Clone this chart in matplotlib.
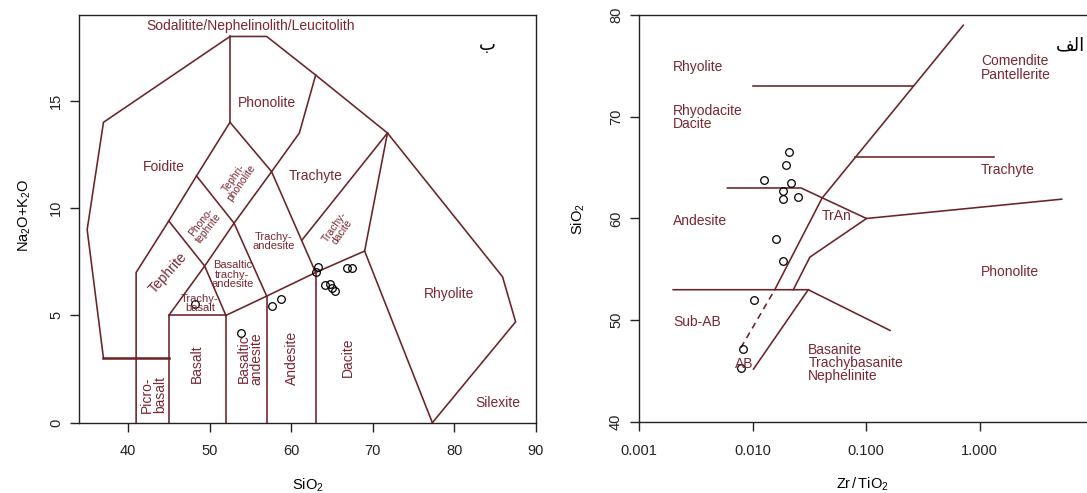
import matplotlib.pyplot as plt
from matplotlib.ticker import NullLocator, FixedLocator, FixedFormatter

plt.rcParams['font.family'] = ['Liberation Sans', 'DejaVu Sans']
plt.rcParams['mathtext.fontset'] = 'custom'
plt.rcParams['mathtext.rm'] = 'Liberation Sans'
plt.rcParams['mathtext.it'] = 'Liberation Sans:italic'

LINE = '#6b2226'
TXT = '#7a2630'

# --- samples on the TAS diagram (panel b)
tas_sio2 = [48.2, 53.8, 57.7, 58.8, 63.0, 63.3, 64.1, 64.7, 65.0, 65.4, 66.8, 67.4]
tas_alk = [5.55, 4.16, 5.43, 5.75, 7.03, 7.27, 6.41, 6.46, 6.26, 6.15, 7.19, 7.19]

# --- samples on the Zr/TiO2 - SiO2 diagram (panel a)
wf_ratio = [0.0211, 0.0197, 0.0126, 0.0217, 0.0187, 0.0187, 0.0254,
            0.0161, 0.0187, 0.0104, 0.0082, 0.0079]
wf_sio2 = [66.5, 65.3, 63.8, 63.5, 62.7, 61.9, 62.1, 58.0, 55.8, 52.0, 47.2, 45.3]

# field boundaries, TAS (Middlemost)
tas_bounds = [
    [(41, 0), (41, 7), (45, 9.4), (48.4, 11.5), (52.5, 14)],
    [(37, 3), (35, 9), (37, 14), (52.5, 18), (57, 18), (63, 16.2),
     (71.8, 13.5), (85.9, 6.8), (87.5, 4.7), (77.3, 0)],
    [(45, 0), (45, 5), (52, 5), (52, 0)],
    [(45, 5), (49.4, 7.3), (52, 5)],
    [(52, 5), (57, 5.9), (63, 7), (69, 8), (77.3, 0)],
    [(57, 0), (57, 5.9)],
    [(63, 0), (63, 7)],
    [(45, 9.4), (49.4, 7.3), (53, 9.3), (57, 5.9)],
    [(48.4, 11.5), (53, 9.3), (57.6, 11.7), (63, 7)],
    [(52.5, 14), (57.6, 11.7), (61, 13.5), (63, 16.2)],
    [(52.5, 14), (52.5, 18)],
    [(69, 8), (71.8, 13.5)],
    [(61.3, 8.5), (71.8, 13.5)],
]
tas_thick = [[(37, 3), (45, 3)]]

# name, x, y, rotation, size
tas_names = [
    ('Sodalitite/Nephelinolith/Leucitolith', 55.0, 18.5, 0, 10),
    ('Phonolite', 57.0, 14.9, 0, 10),
    ('Foidite', 44.4, 11.9, 0, 10),
    ('Trachyte', 63.0, 11.5, 0, 10),
    ('Tephri-\nphonolite', 53.4, 11.3, 55, 7.5),
    ('Phono-\ntephrite', 49.4, 9.2, 52, 7.5),
    ('Trachy-\nandesite', 57.8, 8.45, 0, 8),
    ('Trachy-\ndacite', 65.8, 9.0, 55, 7.5),
    ('Tephrite', 44.9, 7.0, 48, 10),
    ('Basaltic\ntrachy-\nandesite', 52.8, 6.9, 0, 8),
    ('Trachy-\nbasalt', 48.8, 5.56, 0, 8),
    ('Basalt', 48.5, 2.77, 90, 10),
    ('Basaltic\nandesite', 55.0, 3.0, 90, 10),
    ('Andesite', 60.1, 3.0, 90, 10),
    ('Dacite', 67.0, 3.07, 90, 10),
    ('Picro-\nbasalt', 43.1, 1.3, 90, 10),
    ('Rhyolite', 79.3, 6.0, 0, 10),
    ('Silexite', 85.3, 0.9, 0, 10),
]

# field boundaries, Winchester & Floyd
wf_bounds = [
    [(0.01, 73), (0.26, 73)],
    [(0.0157, 53), (0.041, 62), (0.72, 79)],
    [(0.080, 66), (1.35, 66)],
    [(0.006, 63), (0.0268, 63), (0.101, 60), (5.3, 61.9)],
    [(0.0229, 53), (0.032, 56.2), (0.101, 60)],
    [(0.002, 53), (0.031, 53), (0.163, 49)],
    [(0.031, 53), (0.0102, 45.2)],
]
wf_dashed = [(0.0079, 47.3), (0.0157, 53)]

# name, x (left edge), y
wf_names = [
    ('Rhyolite', 0.002, 74.9),
    ('Rhyodacite\nDacite', 0.002, 69.9),
    ('Comendite\nPantellerite', 1.03, 74.8),
    ('Trachyte', 1.03, 64.8),
    ('Andesite', 0.002, 59.8),
    ('TrAn', 0.041, 60.2),
    ('Phonolite', 1.03, 54.75),
    ('Sub-AB', 0.002, 49.85),
    ('AB', 0.0070, 45.7),
    ('Basanite\nTrachybasanite\nNephelinite', 0.031, 45.8),
]

W, H = 1087, 493
fig = plt.figure(figsize=(W / 100, H / 100), dpi=100)


def px_axes(x0, y0, x1, y1):
    return fig.add_axes([x0 / W, 1 - y1 / H, (x1 - x0) / W, (y1 - y0) / H])


ax1 = px_axes(79, 15, 536, 422.7)
ax2 = px_axes(639, 15, 1093, 422)

# ---- panel b : TAS
for seg in tas_bounds:
    xs, ys = zip(*seg)
    ax1.plot(xs, ys, color=LINE, lw=1.15)
for seg in tas_thick:
    xs, ys = zip(*seg)
    ax1.plot(xs, ys, color=LINE, lw=1.8)
for name, x, y, rot, fs in tas_names:
    ax1.text(x, y, name, color=TXT, fontsize=fs, rotation=rot,
             ha='center', va='center', linespacing=0.9)
ax1.plot(tas_sio2, tas_alk, 'o', mfc='none', mec='black', ms=5.5, mew=0.9)
ax1.text(84.0, 17.6, 'ب', fontsize=13, color='black',
         family=['DejaVu Sans'], ha='center', va='center')
ax1.set_xlim(34, 90)
ax1.set_ylim(0, 19)
ax1.set_xticks([40, 50, 60, 70, 80, 90])
ax1.set_yticks([0, 5, 10, 15])

# ---- panel a : Zr/TiO2 vs SiO2
ax2.set_xscale('log')
for seg in wf_bounds:
    xs, ys = zip(*seg)
    ax2.plot(xs, ys, color=LINE, lw=1.15)
xs, ys = zip(*wf_dashed)
ax2.plot(xs, ys, color=LINE, lw=1.15, ls=(0, (4, 3)))
for name, x, y in wf_names:
    ax2.text(x, y, name, color=TXT, fontsize=10, ha='left', va='center',
             linespacing=0.95)
ax2.plot(wf_ratio, wf_sio2, 'o', mfc='none', mec='black', ms=5.5, mew=0.9)
# Arabic label written in visual (presentation-form) order
ax2.text(6.3, 77.0, '\ufed2\ufedf\ufe8d', fontsize=13, color='black',
         family=['DejaVu Sans'], ha='center', va='center')
ax2.set_xlim(0.001, 10)
ax2.set_ylim(40, 80)
ax2.xaxis.set_major_locator(FixedLocator([0.001, 0.01, 0.1, 1]))
ax2.xaxis.set_major_formatter(FixedFormatter(['0.001', '0.010', '0.100', '1.000']))
ax2.xaxis.set_minor_locator(NullLocator())
ax2.set_yticks([40, 50, 60, 70, 80])

for ax in (ax1, ax2):
    ax.tick_params(direction='out', length=6.5, width=1, labelsize=10.5,
                   colors='#222222')
    ax.tick_params(axis='x', pad=9)
    ax.tick_params(axis='y', pad=5, labelrotation=90)
    for lab in ax.get_yticklabels():
        lab.set_va('center')
    for s in ax.spines.values():
        s.set_linewidth(1)
        s.set_color('#222222')

# axis titles
fig.text(308 / W, 1 - 485 / H, 'SiO$_2$', fontsize=10.5, ha='center', va='center')
fig.text(25 / W, 1 - 215 / H, 'Na$_2$O+K$_2$O', fontsize=10.5, rotation=90,
         ha='center', va='center')
fig.text(862 / W, 1 - 484 / H, 'Zr$\\,$/$\\,$TiO$_2$', fontsize=10.5,
         ha='center', va='center')
fig.text(578 / W, 1 - 219 / H, 'SiO$_2$', fontsize=10.5, rotation=90,
         ha='center', va='center')

fig.savefig('out.png', dpi=100)
